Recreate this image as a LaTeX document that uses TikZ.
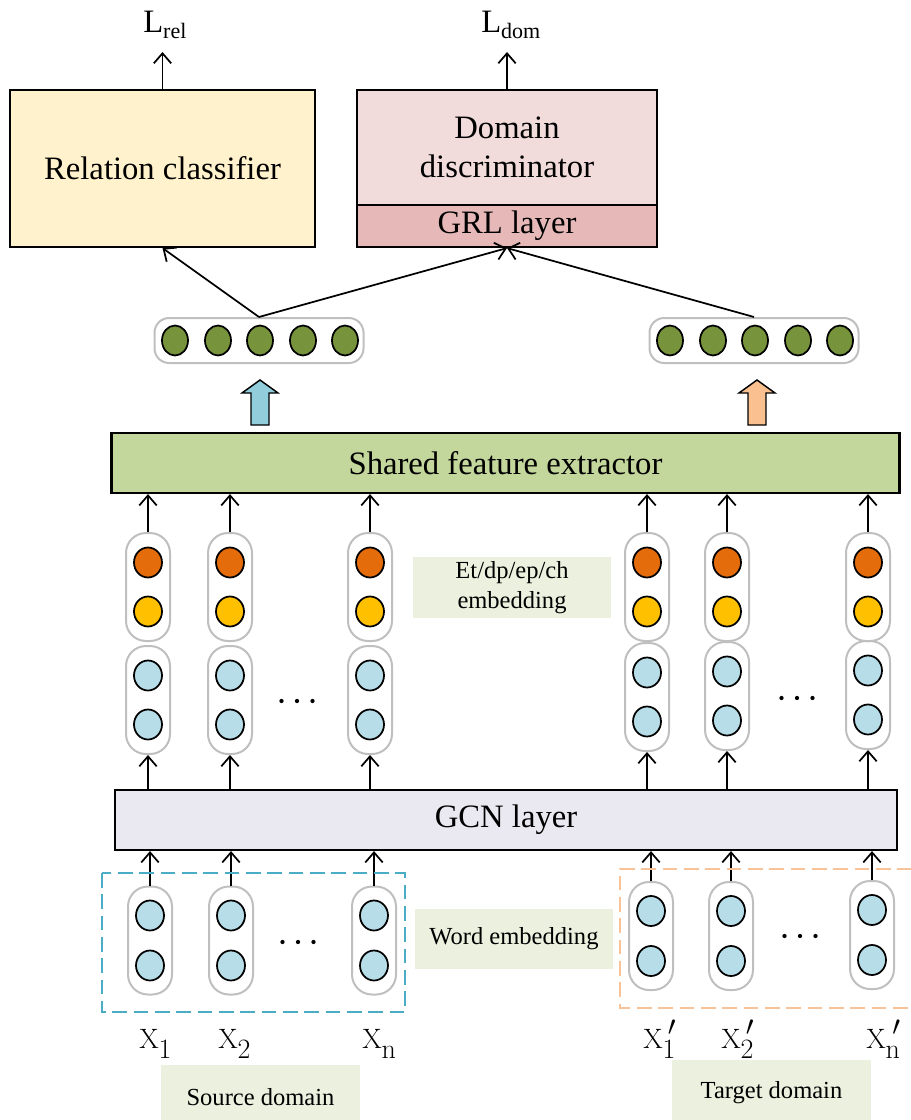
\RequirePackage{fix-cm}
\documentclass[tikz,border=0pt]{standalone}
\usepackage[no-math]{fontspec}
\setmainfont{Liberation Serif}
\usetikzlibrary{arrows.meta,shapes.geometric,calc}

\definecolor{relfill}{HTML}{FFF2CC}
\definecolor{domfill}{HTML}{F2DCDB}
\definecolor{grlfill}{HTML}{E6B9B8}
\definecolor{sharedfill}{HTML}{C3D69B}
\definecolor{gcnfill}{HTML}{EAE8F1}
\definecolor{tagfill}{HTML}{EBF1DE}
\definecolor{pillgray}{HTML}{BFBFBF}
\definecolor{featgreen}{HTML}{77933C}
\definecolor{etorange}{HTML}{E46C0A}
\definecolor{etyellow}{HTML}{FFC000}
\definecolor{wordblue}{HTML}{B7DEE8}
\definecolor{srcarrow}{HTML}{92CDDC}
\definecolor{tgtarrow}{HTML}{FAC090}
\definecolor{srcdash}{HTML}{4BACC6}
\definecolor{tgtdash}{HTML}{F9C399}

\newcommand\bigtxt{\fontsize{24.5}{29.25}\selectfont}
\newcommand\smalltxt{\fontsize{18.4}{22}\selectfont}
\newcommand\xtxt{\fontsize{21}{23}\selectfont}
\newcommand\xsym[1]{$\mathrm{X}$\raisebox{-0.85ex}{$#1$}}
\newcommand\xsymp[1]{$\mathrm{X}$\raisebox{-0.85ex}{$#1$}\llap{\raisebox{9.5pt}{$\prime$}}}

\begin{document}
\begin{tikzpicture}[x=0.75pt,y=-0.75pt,
  boxstyle/.style={draw, line width=1.6pt, inner sep=0pt, align=center, font=\bigtxt},
  tag/.style={fill=tagfill, inner sep=0pt, minimum width=148.5pt, align=center, font=\smalltxt},
  pill/.style={draw=pillgray, line width=1.5pt, rounded corners=15pt,
    minimum width=33pt, minimum height=81pt, inner sep=0pt},
  vec/.style={draw=pillgray, line width=1.5pt, rounded corners=11pt,
    minimum width=156.75pt, minimum height=33.75pt, inner sep=0pt},
  unit/.style={ellipse, draw, line width=1.3pt, minimum width=21pt,
    minimum height=22.5pt, inner sep=0pt},
  gunit/.style={unit, fill=featgreen, minimum width=19.5pt},
  arr/.style={line width=1.3pt, -{Straight Barb[length=7.5pt,width=13pt]}},
  dashbox/.style={line width=1.5pt, dash pattern=on 11pt off 5pt},
  fat/.style={line width=1.1pt, line join=miter},
  lossfont/.style={font=\bigtxt, inner sep=0pt, anchor=base west}
]
\useasboundingbox (0,0) rectangle (910,1120);

% ---------- classifier heads ----------
\node[boxstyle, fill=relfill, minimum width=228.75pt, minimum height=117.75pt]
  (rel) at (162.5,168.5) {Relation classifier};
\node[boxstyle, fill=domfill, minimum width=225pt, minimum height=86.25pt]
  (dom) at (507,147.5) {Domain\\discriminator};
\node[boxstyle, fill=grlfill, minimum width=225pt, minimum height=31.5pt]
  (grl) at (507,226) {GRL layer};

% losses
\node[lossfont] (lrel) at (143,33) {L\raisebox{-4.5pt}{\fontsize{16.5}{18}\selectfont rel}};
\node[lossfont] (ldom) at (481,33) {L\raisebox{-4.5pt}{\fontsize{16.5}{18}\selectfont dom}};
\coordinate (lreltip) at (162.5,52);
\coordinate (ldomtip) at (507,52);
\draw[arr] (rel.north) -- (lreltip);
\draw[arr] (dom.north) -- (ldomtip);

% ---------- extracted feature vectors ----------
\node[vec] (vs) at (259,340.5) {};
\node[vec] (vt) at (754,340.5) {};
\foreach \dx in {-84,-41,1,44,86} {
  \node[gunit] at ($(vs.center)+(\dx,0)$) {};
  \node[gunit] at ($(vt.center)+(\dx,0)$) {};
}
\draw[arr] (vs.north) -- (rel.south);
\draw[arr] (vs.north) -- (grl.south);
\draw[arr] (vt.north) -- (grl.south);

% ---------- shared feature extractor ----------
\node[boxstyle, fill=sharedfill, minimum width=591pt, minimum height=45pt]
  (shared) at (505.5,463) {Shared feature extractor};

% block arrows from the extractor to the two feature vectors
\foreach \x/\c in {260/srcarrow, 757/tgtarrow}
  \filldraw[fat, fill=\c] (\x-9,425) -- (\x-9,393) -- (\x-18,393) -- (\x,380)
    -- (\x+18,393) -- (\x+9,393) -- (\x+9,425) -- cycle;

% ---------- GCN layer ----------
\node[boxstyle, fill=gcnfill, minimum width=586.5pt, minimum height=45pt]
  (gcn) at (506,820) {GCN layer};

% ---------- token columns above the GCN ----------
\foreach \n/\x/\ly in {s1/148/700, s2/230/700, sn/370/700,
                      t1/647/697, t2/727/696, tn/868/695} {
  \node[pill] (\n-u) at (\x,587) {};
  \node[pill] (\n-l) at (\x,\ly) {};
  \node[unit, fill=etorange] at ($(\n-u.center)+(0,-24.5)$) {};
  \node[unit, fill=etyellow] at ($(\n-u.center)+(0,24.5)$) {};
  \node[unit, fill=wordblue] at ($(\n-l.center)+(0,-24.5)$) {};
  \node[unit, fill=wordblue] at ($(\n-l.center)+(0,24.5)$) {};
  \draw[arr] (\n-u.north) -- (\n-u.north |- shared.south);
  \draw[arr] (\n-l.south |- gcn.north) -- (\n-l.south);
}

\node[tag, minimum height=45.75pt] (ettag) at (512,587.5) {Et/dp/ep/ch\\embedding};

% ---------- word embeddings below the GCN ----------
\foreach \n/\x/\c in {s1/150/940.5, s2/231/940.5, sn/374/940.5,
                     t1/651/936, t2/731/936, tn/872/935} {
  \node[pill] (\n-w) at (\x,\c) {};
  \node[unit, fill=wordblue] at ($(\n-w.center)+(0,-25)$) {};
  \node[unit, fill=wordblue] at ($(\n-w.center)+(0,25)$) {};
  \draw[arr] (\n-w.north) -- (\n-w.north |- gcn.south);
}

\node[tag, minimum height=45pt] (wordtag) at (514,939) {Word embedding};

% ellipsis dots between columns
\foreach \x/\y in {297/701, 797/698, 298/942, 800/936}
  \foreach \d in {-15.5,0,15.5}
    \fill (\x+\d,\y) circle [radius=1.6pt];

% domain frames
\draw[dashbox, draw=srcdash] (102,873) rectangle (405,1012);
\draw[dashbox, draw=tgtdash] (912,869) -- (620,869) -- (620,1008) -- (912,1008);

% ---------- token labels ----------
\begin{scope}[every node/.style={font=\xtxt, inner sep=0pt, anchor=base west}]
  \node (x1) at (139,1048) {\xsym{1}};
  \node (x2) at (218,1048) {\xsym{2}};
  \node (xn) at (362,1048) {\xsym{\mathrm{n}}};
  \node (y1) at (643,1048) {\xsymp{1}};
  \node (y2) at (721,1048) {\xsymp{2}};
  \node (yn) at (866,1048) {\xsymp{\mathrm{n}}};
\end{scope}

% domain tags
\node[tag, minimum width=149.25pt, minimum height=48.75pt] (srctag) at (260.5,1097.5) {Source domain};
\node[tag, minimum width=149.25pt, minimum height=48.75pt] (tgttag) at (771.5,1092.5) {Target domain};
\end{tikzpicture}
\end{document}
